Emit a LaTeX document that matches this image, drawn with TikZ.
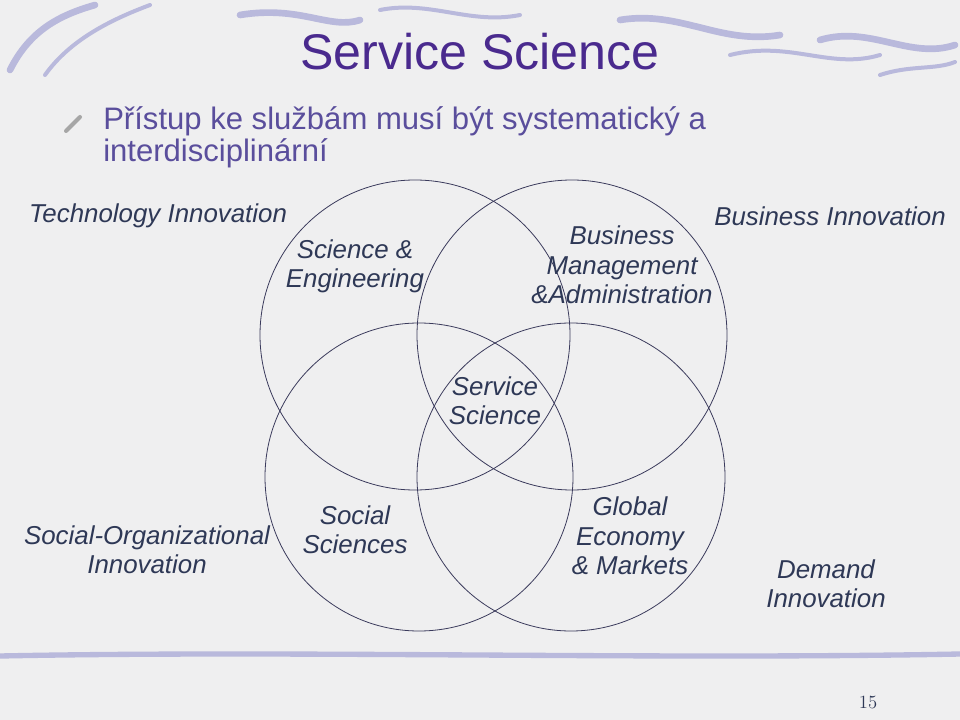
\documentclass[tikz,border=0pt]{standalone}
\usepackage{fontspec}
\setmainfont{Liberation Sans}
\definecolor{pagebg}{HTML}{EFEFF0}
\definecolor{swoosh}{HTML}{B9B9DC}
\definecolor{titlecol}{HTML}{4A2A8E}
\definecolor{bulletcol}{HTML}{5A4E9C}
\definecolor{labelcol}{HTML}{2E3856}
\definecolor{ringcol}{HTML}{3A3A5C}

\tikzset{
  ring/.style={draw=ringcol, line width=0.6pt},
  area/.style={font=\fontsize{19.4pt}{22pt}\selectfont\itshape, text=labelcol, align=center, inner sep=0pt},
  deco/.style={draw=swoosh, line width=5pt, line cap=round}
}

\begin{document}
\begin{tikzpicture}[x=0.75pt, y=-0.75pt]

\fill[pagebg] (0,0) rectangle (960,720);
\useasboundingbox (0,0) rectangle (960,720);

% top swooshes
\draw[deco] (10,70) .. controls (30,30) and (60,15) .. (95,5);
\draw[deco, line width=3pt] (45,75) .. controls (70,40) and (110,20) .. (150,5);
\draw[deco] (240,15) .. controls (300,5) and (330,30) .. (360,20);
\draw[deco, line width=3pt] (380,10) .. controls (430,0) and (470,25) .. (520,15);
\draw[deco] (620,20) .. controls (680,10) and (720,45) .. (780,35);
\draw[deco, line width=3pt] (730,55) .. controls (790,40) and (830,70) .. (880,55);
\draw[deco] (820,40) .. controls (870,25) and (910,60) .. (955,45);
\draw[deco, line width=3pt] (880,75) .. controls (910,65) and (935,70) .. (955,62);
% bottom band
\draw[deco, line width=4pt] (0,656) .. controls (300,650) and (650,660) .. (960,654);

% title and bullet
\node[text=titlecol, font=\fontsize{37.6pt}{40pt}\selectfont, inner sep=0pt] (title) at (480,52) {Service Science};
\draw[gray!70, line width=3pt, line cap=round] (66,131) -- (80,117);
\node[anchor=west, text=bulletcol, font=\fontsize{23.3pt}{21pt}\selectfont, align=left, inner sep=0pt] (bullet) at (103,137)
  {Přístup ke službám musí být systematický a\\[1pt]interdisciplinární};

% the four rings
\draw[ring] (415,335) circle (155);
\draw[ring] (572,335) circle (155);
\draw[ring] (419,477) circle (154);
\draw[ring] (571,477) circle (154);

% labels
\node[area] (techinn) at (158,216) {Technology Innovation};
\node[area] (scieng) at (355,266) {Science \&\\Engineering};
\node[area] (busman) at (622,265) {Business\\Management\\\&Administration};
\node[area] (businn) at (830,216) {Business Innovation};
\node[area] (servsci) at (495,401) {Service\\Science};
\node[area] (socorg) at (147,550) {Social-Organizational\\Innovation};
\node[area] (socsci) at (355,530) {Social\\Sciences};
\node[area] (global) at (630,536) {Global\\Economy\\\& Markets};
\node[area] (demand) at (826,584) {Demand\\Innovation};

\node[font=\fontfamily{lmr}\selectfont\fontsize{14pt}{14pt}\selectfont, text=labelcol, inner sep=0pt] (pagenum) at (868,702) {15};

\end{tikzpicture}
\end{document}
